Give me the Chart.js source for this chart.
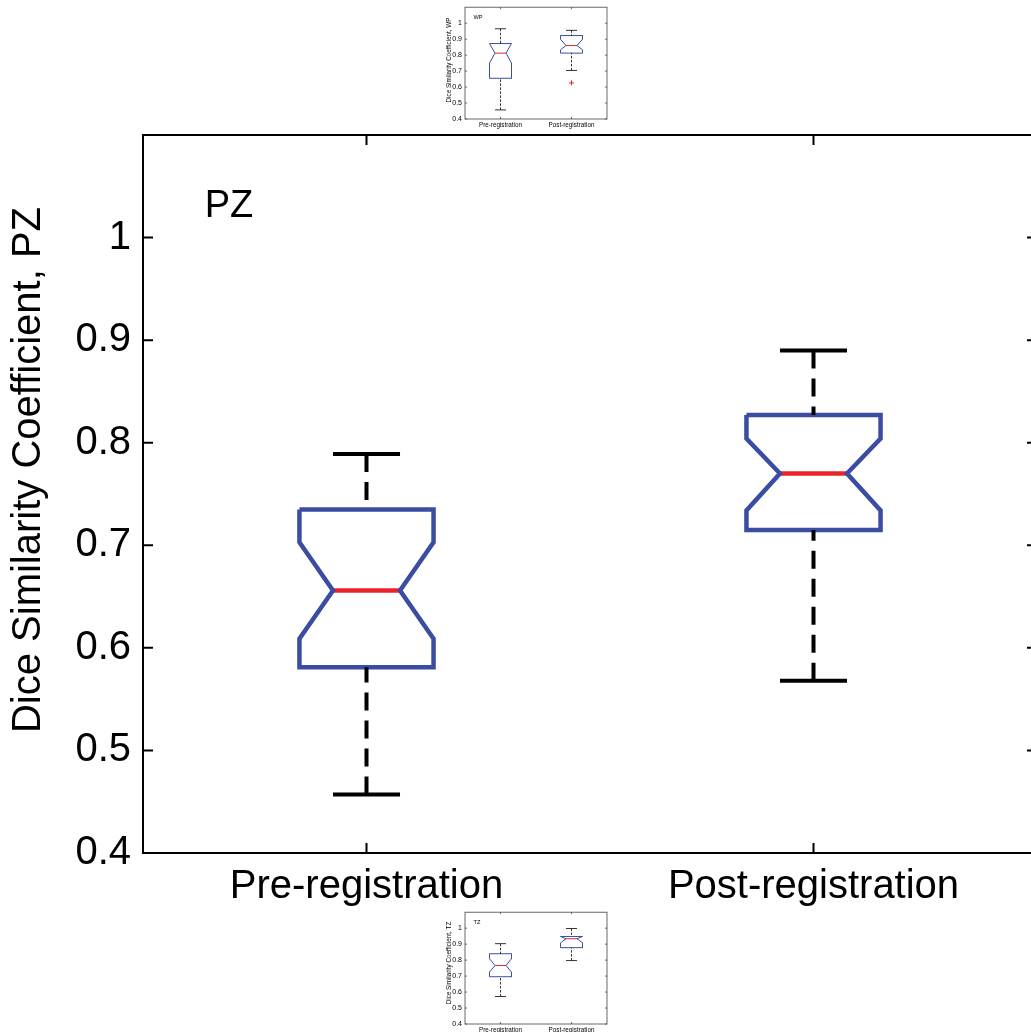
<!DOCTYPE html>
<html>
<head>
<meta charset="utf-8">
<script src="https://cdn.jsdelivr.net/npm/chart.js@4.4.1/dist/chart.umd.min.js"></script>
<style>
    html, body { margin: 0; padding: 0; background: #fff; overflow: hidden; width: 1031px; height: 1032px; }
    canvas { position: absolute; }
    #pz { left: 0; top: 0; }
    #wp { left: 420px; top: 0; }
    #tz { left: 420px; top: 905px; }
</style>
</head>
<body>
<canvas id="pz" width="1060" height="1032"></canvas>
<canvas id="wp" width="200" height="130"></canvas>
<canvas id="tz" width="200" height="130"></canvas>
<script>
const categories = ['Pre-registration', 'Post-registration'];
const yTicks = [0.4, 0.5, 0.6, 0.7, 0.8, 0.9, 1];

// PZ (main panel)
const pzWhiskerLow  = [0.457, 0.568];
const pzQ1          = [0.581, 0.715];
const pzNotchLow    = [0.609, 0.734];
const pzMedian      = [0.656, 0.770];
const pzNotchHigh   = [0.703, 0.804];
const pzQ3          = [0.735, 0.827];
const pzWhiskerHigh = [0.789, 0.890];
const pzOutliers    = [[], []];

// WP (small panel above)
const wpWhiskerLow  = [0.457, 0.704];
const wpQ1          = [0.655, 0.8125];
const wpNotchLow    = [0.750, 0.833];
const wpMedian      = [0.8125, 0.860];
const wpNotchHigh   = [0.8725, 0.900];
const wpQ3          = [0.8725, 0.9225];
const wpWhiskerHigh = [0.965, 0.955];
const wpOutliers    = [[], [0.626]];

// TZ (small panel below)
const tzWhiskerLow  = [0.572, 0.797];
const tzQ1          = [0.696, 0.878];
const tzNotchLow    = [0.725, 0.908];
const tzMedian      = [0.766, 0.934];
const tzNotchHigh   = [0.809, 0.948];
const tzQ3          = [0.840, 0.948];
const tzWhiskerHigh = [0.903, 0.998];
const tzOutliers    = [[], []];

const BLUE = '#3a4da2';
const RED = '#e8252b';
const BLACK = '#000000';
const FONT = "'Liberation Sans', Arial, Helvetica, sans-serif";

// frame with inward ticks on all four sides, corner label and y title
const matlabAxes = {
    id: 'matlabAxes',
    afterDraw(chart, args, o) {
        const {ctx, chartArea: a, scales: {x, y}} = chart;
        ctx.save();
        ctx.strokeStyle = o.color;
        ctx.lineWidth = o.width;
        ctx.strokeRect(a.left, a.top, a.right - a.left, a.bottom - a.top);
        ctx.beginPath();
        y.ticks.forEach(t => {
            const p = y.getPixelForValue(t.value);
            ctx.moveTo(a.left, p); ctx.lineTo(a.left + o.tick, p);
            ctx.moveTo(a.right, p); ctx.lineTo(a.right - o.tick, p);
        });
        x.ticks.forEach(t => {
            const p = x.getPixelForValue(t.value);
            ctx.moveTo(p, a.bottom); ctx.lineTo(p, a.bottom - o.tick);
            ctx.moveTo(p, a.top); ctx.lineTo(p, a.top + o.tick);
        });
        ctx.stroke();

        ctx.fillStyle = '#000';
        ctx.font = o.labelFont;
        ctx.textAlign = 'left';
        ctx.textBaseline = 'alphabetic';
        ctx.fillText(o.label, x.getPixelForValue(o.labelAt[0]), y.getPixelForValue(o.labelAt[1]));

        ctx.translate(o.titleAt[0], o.titleAt[1]);
        ctx.rotate(-Math.PI / 2);
        ctx.textAlign = 'center';
        ctx.textBaseline = 'middle';
        ctx.font = o.titleFont;
        ctx.fillText(o.title, 0, 0);
        ctx.restore();
    }
};

function seg(points, color, width, dash) {
    return {
        data: points.map(([x, y]) => ({x, y})),
        showLine: true,
        pointRadius: 0,
        borderColor: color,
        borderWidth: width,
        borderDash: dash || [],
        borderJoinStyle: 'miter',
        fill: false
    };
}

function boxplotDatasets(s, st) {
    const sets = [];
    categories.forEach((cat, i) => {
        const x = i + 1;
        const w = st.half;
        const n = st.half / 2;
        // whiskers
        sets.push(seg([[x, s.high[i]], [x, s.q3[i]]], BLACK, st.whisker, st.dash));
        sets.push(seg([[x, s.low[i]], [x, s.q1[i]]], BLACK, st.whisker, st.dash));
        sets.push(seg([[x - n, s.high[i]], [x + n, s.high[i]]], BLACK, st.whisker));
        sets.push(seg([[x - n, s.low[i]], [x + n, s.low[i]]], BLACK, st.whisker));
        // notched box
        sets.push(seg([
            [x - w, s.q3[i]], [x + w, s.q3[i]], [x + w, s.nHigh[i]], [x + n, s.med[i]],
            [x + w, s.nLow[i]], [x + w, s.q1[i]], [x - w, s.q1[i]], [x - w, s.nLow[i]],
            [x - n, s.med[i]], [x - w, s.nHigh[i]], [x - w, s.q3[i]]
        ], BLUE, st.box));
        // median
        sets.push(seg([[x - n, s.med[i]], [x + n, s.med[i]]], RED, st.median));
    });
    const out = [];
    s.out.forEach((vals, i) => vals.forEach(v => out.push({x: i + 1, y: v})));
    sets.push({
        data: out,
        showLine: false,
        pointStyle: 'cross',
        pointRadius: st.outlier,
        borderColor: RED,
        borderWidth: 1
    });
    return sets;
}

function makeChart(id, s, st, lay, axes) {
    return new Chart(document.getElementById(id), {
        type: 'scatter',
        data: {datasets: boxplotDatasets(s, st)},
        options: {
            responsive: false,
            animation: false,
            devicePixelRatio: 1,
            layout: {padding: {top: lay.top, right: lay.right, left: 0, bottom: 0}},
            plugins: {
                legend: {display: false},
                tooltip: {enabled: false},
                matlabAxes: axes
            },
            scales: {
                x: {
                    type: 'linear',
                    min: 0.5,
                    max: 2.5,
                    afterBuildTicks: sc => { sc.ticks = categories.map((c, i) => ({value: i + 1})); },
                    afterFit: sc => { sc.height = lay.xHeight; },
                    grid: {display: false, drawTicks: false},
                    border: {display: false},
                    ticks: {
                        autoSkip: false,
                        maxRotation: 0,
                        padding: lay.xPad,
                        color: '#000',
                        font: {family: FONT, size: lay.xFont},
                        callback: v => categories[v - 1]
                    }
                },
                y: {
                    type: 'linear',
                    min: 0.4,
                    max: 1.1,
                    afterBuildTicks: sc => { sc.ticks = yTicks.map(v => ({value: v})); },
                    afterFit: sc => { sc.width = lay.yWidth; },
                    grid: {display: false, drawTicks: false},
                    border: {display: false},
                    ticks: {
                        padding: lay.yPad,
                        color: '#000',
                        font: {family: FONT, size: lay.yFont},
                        callback: v => String(v)
                    }
                }
            }
        },
        plugins: [matlabAxes]
    });
}

const bigStyle = {half: 0.15, box: 4.5, median: 4.5, whisker: 4, dash: [18, 10], outlier: 6};
const smallStyle = {half: 0.155, box: 1, median: 1, whisker: 0.8, dash: [2.5, 1.5], outlier: 2.5};

makeChart('pz',
    {low: pzWhiskerLow, q1: pzQ1, nLow: pzNotchLow, med: pzMedian, nHigh: pzNotchHigh, q3: pzQ3, high: pzWhiskerHigh, out: pzOutliers},
    bigStyle,
    {top: 135, right: 23, yWidth: 143, xHeight: 179, xPad: 10, yPad: 12, xFont: 40, yFont: 40},
    {color: '#000', width: 2, tick: 10, label: 'PZ', labelAt: [0.638, 1.02], labelFont: '38px ' + FONT,
     title: 'Dice Similarity Coefficient, PZ', titleAt: [29, 470], titleFont: '40px ' + FONT});

makeChart('wp',
    {low: wpWhiskerLow, q1: wpQ1, nLow: wpNotchLow, med: wpMedian, nHigh: wpNotchHigh, q3: wpQ3, high: wpWhiskerHigh, out: wpOutliers},
    smallStyle,
    {top: 7, right: 13, yWidth: 45, xHeight: 11, xPad: 2, yPad: 3, xFont: 6.3, yFont: 7},
    {color: '#444', width: 0.8, tick: 2, label: 'WP', labelAt: [0.62, 1.027], labelFont: '5.6px ' + FONT,
     title: 'Dice Similarity Coefficient, WP', titleAt: [29, 60], titleFont: '6.3px ' + FONT});

makeChart('tz',
    {low: tzWhiskerLow, q1: tzQ1, nLow: tzNotchLow, med: tzMedian, nHigh: tzNotchHigh, q3: tzQ3, high: tzWhiskerHigh, out: tzOutliers},
    smallStyle,
    {top: 7, right: 13, yWidth: 45, xHeight: 11, xPad: 2, yPad: 3, xFont: 6.3, yFont: 7},
    {color: '#444', width: 0.8, tick: 2, label: 'TZ', labelAt: [0.62, 1.027], labelFont: '5.6px ' + FONT,
     title: 'Dice Similarity Coefficient, TZ', titleAt: [29, 58], titleFont: '6.3px ' + FONT});
</script>
</body>
</html>
